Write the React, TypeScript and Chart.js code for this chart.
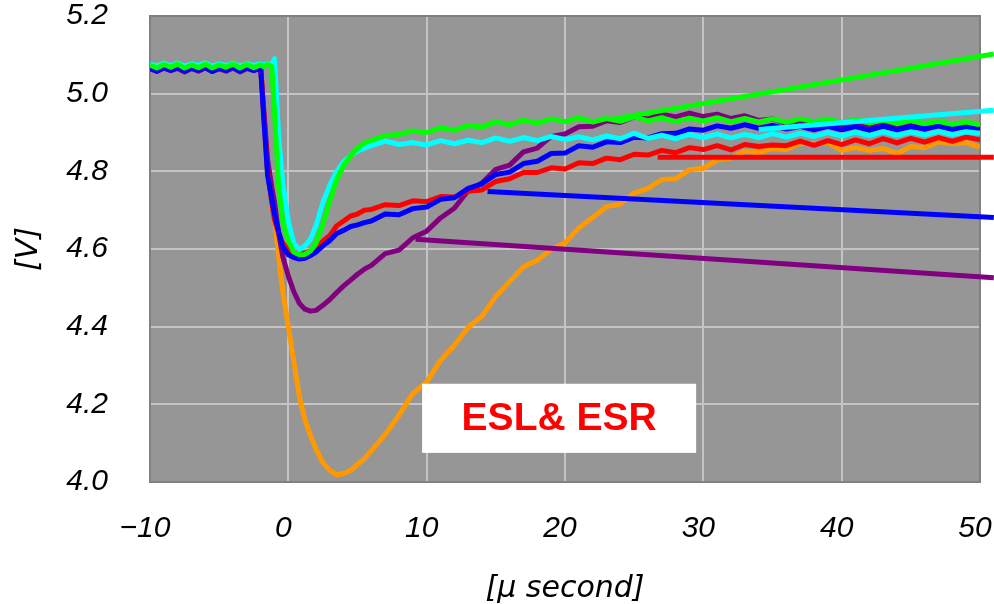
import React, { useEffect, useRef } from "react";
import { Chart, registerables } from "chart.js";

Chart.register(...registerables);

// ---- time axis (µs), shared by every measured trace ----
const timeUs = [
  -10, -9.5, -9, -8.5, -8, -7.5, -7, -6.5, -6, -5.5, -5, -4.5, -4, -3.5, -3, -2.5, -2,
  -1.8, -1.5, -1.2, -1.0, -0.7, -0.4, 0, 0.4, 0.8, 1.2, 1.6, 2, 2.5, 3, 3.5, 4, 4.5, 5, 5.5,
  6, 7, 8, 9, 10, 11, 12, 13, 14, 15, 16, 17, 18, 19, 20, 21, 22, 23, 24, 25,
  26, 27, 28, 29, 30, 31, 32, 33, 34, 35, 36, 37, 38, 39, 40, 41, 42, 43, 44, 45,
  46, 47, 48, 49, 50,
];

// ---- measured voltages [V] ----
const orangeV = [
  5.068, 5.066, 5.069, 5.067, 5.07, 5.065, 5.068, 5.067, 5.064, 5.069, 5.067, 5.065, 5.069, 5.066, 5.07, 5.065, 5.068,
  4.96, 4.8, 4.73, 4.68, 4.58, 4.49, 4.4, 4.31, 4.22, 4.16, 4.12, 4.085, 4.05, 4.03, 4.018, 4.022, 4.03, 4.045, 4.06,
  4.08, 4.122, 4.172, 4.228, 4.257, 4.313, 4.352, 4.398, 4.427, 4.478,
  4.516, 4.554, 4.571, 4.599, 4.616, 4.654, 4.681, 4.709, 4.716, 4.744,
  4.756, 4.779, 4.781, 4.804, 4.808, 4.829, 4.834, 4.852, 4.848, 4.859,
  4.856, 4.872, 4.871, 4.874, 4.854, 4.861, 4.854, 4.859, 4.846, 4.864,
  4.861, 4.876, 4.871, 4.874, 4.862,
];

const purpleV = [
  5.064, 5.057, 5.066, 5.059, 5.065, 5.056, 5.065, 5.058, 5.066, 5.057, 5.064, 5.058, 5.066, 5.056, 5.065, 5.059, 5.065,
  4.97, 4.83, 4.76, 4.72, 4.64, 4.58, 4.53, 4.49, 4.46, 4.445, 4.44, 4.442, 4.455, 4.47, 4.488, 4.505, 4.52, 4.535, 4.548,
  4.558, 4.588, 4.597, 4.629, 4.646, 4.68, 4.705, 4.75, 4.77, 4.805,
  4.816, 4.85, 4.86, 4.89, 4.896, 4.915, 4.916, 4.93, 4.926, 4.94,
  4.935, 4.947, 4.94, 4.95, 4.941, 4.947, 4.936, 4.943, 4.931, 4.935,
  4.923, 4.93, 4.918, 4.925, 4.914, 4.921, 4.911, 4.92, 4.909, 4.918,
  4.908, 4.917, 4.906, 4.915, 4.907,
];

const redV = [
  5.072, 5.066, 5.075, 5.068, 5.073, 5.065, 5.076, 5.067, 5.074, 5.066, 5.075, 5.068, 5.073, 5.065, 5.075, 5.067, 5.072,
  4.96, 4.8, 4.72, 4.675, 4.64, 4.615, 4.6, 4.592, 4.588, 4.59, 4.595, 4.602, 4.62, 4.635, 4.66, 4.672, 4.685, 4.69, 4.7,
  4.702, 4.714, 4.712, 4.724, 4.722, 4.735, 4.734, 4.749, 4.752, 4.774,
  4.781, 4.797, 4.797, 4.809, 4.806, 4.822, 4.82, 4.834, 4.83, 4.844,
  4.842, 4.854, 4.848, 4.861, 4.856, 4.866, 4.855, 4.869, 4.864, 4.868,
  4.866, 4.878, 4.867, 4.879, 4.869, 4.881, 4.871, 4.884, 4.873, 4.885,
  4.875, 4.887, 4.877, 4.888, 4.881,
];

const blueV = [
  5.066, 5.058, 5.067, 5.06, 5.068, 5.058, 5.066, 5.06, 5.068, 5.057, 5.066, 5.06, 5.068, 5.058, 5.067, 5.06, 5.066,
  4.95, 4.79, 4.73, 4.69, 4.645, 4.605, 4.585, 4.578, 4.574, 4.576, 4.583, 4.592, 4.608, 4.622, 4.64, 4.648, 4.658, 4.662, 4.668,
  4.672, 4.69, 4.688, 4.704, 4.708, 4.728, 4.732, 4.756, 4.768, 4.792,
  4.798, 4.82, 4.826, 4.846, 4.847, 4.866, 4.862, 4.876, 4.874, 4.888,
  4.886, 4.897, 4.898, 4.909, 4.906, 4.917, 4.911, 4.92, 4.911, 4.918,
  4.909, 4.916, 4.907, 4.916, 4.907, 4.915, 4.906, 4.916, 4.907, 4.915,
  4.91, 4.917, 4.909, 4.916, 4.911,
];

const cyanV = [
  5.077, 5.071, 5.078, 5.072, 5.079, 5.071, 5.077, 5.073, 5.079, 5.071, 5.077, 5.072, 5.078, 5.071, 5.077, 5.073, 5.077,
  5.074, 5.077, 5.075, 5.09, 4.89, 4.77, 4.67, 4.615, 4.598, 4.608, 4.625, 4.66, 4.72, 4.765, 4.8, 4.825, 4.84, 4.852, 4.86,
  4.866, 4.878, 4.869, 4.874, 4.868, 4.879, 4.871, 4.88, 4.874, 4.886,
  4.877, 4.887, 4.879, 4.89, 4.882, 4.889, 4.881, 4.891, 4.884, 4.898,
  4.885, 4.893, 4.884, 4.895, 4.887, 4.896, 4.886, 4.895, 4.887, 4.897,
  4.888, 4.898, 4.89, 4.9, 4.891, 4.901, 4.892, 4.902, 4.893, 4.901,
  4.894, 4.903, 4.895, 4.902, 4.898,
];

const greenV = [
  5.074, 5.066, 5.075, 5.068, 5.076, 5.066, 5.074, 5.067, 5.076, 5.066, 5.074, 5.068, 5.076, 5.066, 5.075, 5.067, 5.074,
  5.07, 5.075, 5.07, 4.95, 4.76, 4.67, 4.62, 4.592, 4.585, 4.586, 4.595, 4.615, 4.665, 4.725, 4.78, 4.815, 4.84, 4.86, 4.873,
  4.88, 4.892, 4.895, 4.904, 4.9, 4.912, 4.906, 4.918, 4.914, 4.928,
  4.92, 4.932, 4.924, 4.935, 4.928, 4.938, 4.927, 4.936, 4.929, 4.94,
  4.93, 4.938, 4.928, 4.937, 4.93, 4.938, 4.928, 4.936, 4.927, 4.935,
  4.926, 4.935, 4.928, 4.934, 4.926, 4.933, 4.925, 4.932, 4.924, 4.931,
  4.923, 4.929, 4.921, 4.927, 4.92,
];

// ---- straight trend lines (start, end) ----
const greenTrendX = [23.5, 51.0];
const greenTrendY = [4.935, 5.102];
const cyanTrendX = [34.0, 51.0];
const cyanTrendY = [4.908, 4.957];
const redTrendX = [26.7, 51.0];
const redTrendY = [4.836, 4.836];
const blueTrendX = [14.4, 51.0];
const blueTrendY = [4.748, 4.681];
const purpleTrendX = [9.2, 51.0];
const purpleTrendY = [4.625, 4.526];

// ---- axes ----
const xTickValues = [-10, 0, 10, 20, 30, 40, 50];
const xTickLabels = ["\u221210", "0", "10", "20", "30", "40", "50"];
const yTickValues = [4.0, 4.2, 4.4, 4.6, 4.8, 5.0, 5.2];
const yTickLabels = ["4.0", "4.2", "4.4", "4.6", "4.8", "5.0", "5.2"];
const xTitle = "[\u03bc second]";
const yTitle = "[V]";

// ---- annotation box ----
const noteText = "ESL& ESR";
const noteBoxX = [9.67, 29.48];
const noteBoxY = [4.253, 4.075];

const toPts = (xs: number[], ys: number[]) => xs.map((x, i) => ({ x, y: ys[i] }));

export default function App() {
  const ref = useRef<HTMLCanvasElement>(null);

  useEffect(() => {
    const canvas = ref.current;
    if (!canvas) return;

    const traceDs = (label: string, vals: number[], color: string, order: number) => ({
      label,
      data: toPts(timeUs, vals),
      borderColor: color,
      backgroundColor: color,
      borderWidth: 5,
      pointRadius: 0,
      tension: 0,
      borderJoinStyle: "round" as const,
      order,
    });
    const trendDs = (label: string, xs: number[], ys: number[], color: string) => ({
      label,
      data: toPts(xs, ys),
      borderColor: color,
      backgroundColor: color,
      borderWidth: 5,
      pointRadius: 0,
      tension: 0,
      clip: false as const,
      order: 0,
    });

    const framePlugin = {
      id: "frame",
      beforeDraw(chart: any) {
        const { ctx, chartArea: a } = chart;
        ctx.save();
        ctx.fillStyle = "#969696";
        ctx.fillRect(a.left, a.top, a.right - a.left, a.bottom - a.top);
        ctx.restore();
      },
      beforeDatasetsDraw(chart: any) {
        const { ctx, chartArea: a } = chart;
        ctx.save();
        ctx.strokeStyle = "#808080";
        ctx.lineWidth = 2;
        ctx.strokeRect(a.left, a.top, a.right - a.left, a.bottom - a.top);
        ctx.restore();
      },
      afterDatasetsDraw(chart: any) {
        const { ctx } = chart;
        const xs = chart.scales.x;
        const ys = chart.scales.y;
        const l = xs.getPixelForValue(noteBoxX[0]);
        const r = xs.getPixelForValue(noteBoxX[1]);
        const t = ys.getPixelForValue(noteBoxY[0]);
        const b = ys.getPixelForValue(noteBoxY[1]);
        ctx.save();
        ctx.fillStyle = "#ffffff";
        ctx.fillRect(l, t, r - l, b - t);
        ctx.fillStyle = "#ff0000";
        ctx.font = "bold 39px 'Liberation Sans', Arial, sans-serif";
        ctx.textAlign = "center";
        ctx.textBaseline = "middle";
        ctx.fillText(noteText, (l + r) / 2, (t + b) / 2 + 1);
        ctx.restore();
      },
    };

    const tickFont = { family: "'Liberation Sans', Arial, sans-serif", size: 30, style: "italic" as const, lineHeight: 1.0 };
    const titleFont = { family: "'DejaVu Sans', sans-serif", size: 30, style: "italic" as const, lineHeight: 1.0 };

    const chart = new Chart(canvas, {
      type: "line",
      data: {
        datasets: [
          traceDs("orange", orangeV, "#ff9900", 7),
          traceDs("purple", purpleV, "#800080", 6),
          traceDs("red", redV, "#ff0000", 5),
          traceDs("blue", blueV, "#0000ff", 4),
          traceDs("cyan", cyanV, "#00ffff", 3),
          traceDs("green", greenV, "#00ff00", 2),
          trendDs("purple trend", purpleTrendX, purpleTrendY, "#800080"),
          trendDs("blue trend", blueTrendX, blueTrendY, "#0000ff"),
          trendDs("red trend", redTrendX, redTrendY, "#ff0000"),
          trendDs("cyan trend", cyanTrendX, cyanTrendY, "#00ffff"),
          trendDs("green trend", greenTrendX, greenTrendY, "#00ff00"),
        ],
      },
      options: {
        animation: false,
        responsive: false,
        devicePixelRatio: 1,
        events: [],
        layout: { padding: { left: 0, right: 14, top: 16, bottom: 0 } },
        plugins: {
          legend: { display: false },
          tooltip: { enabled: false },
        },
        scales: {
          x: {
            type: "linear",
            min: -10,
            max: 50,
            afterBuildTicks: (s: any) => {
              s.ticks = xTickValues.map((v) => ({ value: v }));
            },
            afterFit: (s: any) => {
              s.height = 122;
              s.paddingLeft = 0;
              s.paddingRight = 0;
            },
            ticks: {
              autoSkip: false,
              maxRotation: 0,
              color: "#000",
              font: tickFont,
              padding: 32,
              labelOffset: -5,
              callback: (_v: any, i: number) => xTickLabels[i],
            },
            grid: { color: "#c4c4c4", lineWidth: 2, drawTicks: false },
            border: { display: false },
            title: { display: true, text: xTitle, color: "#000", font: titleFont, padding: { top: 0, bottom: 0 } },
          },
          y: {
            type: "linear",
            min: 4.0,
            max: 5.2,
            afterBuildTicks: (s: any) => {
              s.ticks = yTickValues.map((v) => ({ value: v }));
            },
            afterFit: (s: any) => {
              s.width = 150;
              s.paddingTop = 0;
              s.paddingBottom = 0;
            },
            ticks: {
              autoSkip: false,
              color: "#000",
              font: tickFont,
              padding: 42,
              callback: (_v: any, i: number) => yTickLabels[i],
            },
            grid: { color: "#c4c4c4", lineWidth: 2, drawTicks: false },
            border: { display: false },
            title: { display: true, text: yTitle, color: "#000", font: titleFont, padding: { top: 14, bottom: 0 } },
          },
        },
      },
      plugins: [framePlugin],
    });

    return () => {
      chart.destroy();
    };
  }, []);

  return (
    <div style={{ position: "fixed", left: 0, top: 0, width: 994, height: 604, background: "#ffffff" }}>
      <canvas ref={ref} width={994} height={604} style={{ display: "block", width: 994, height: 604 }} />
    </div>
  );
}
